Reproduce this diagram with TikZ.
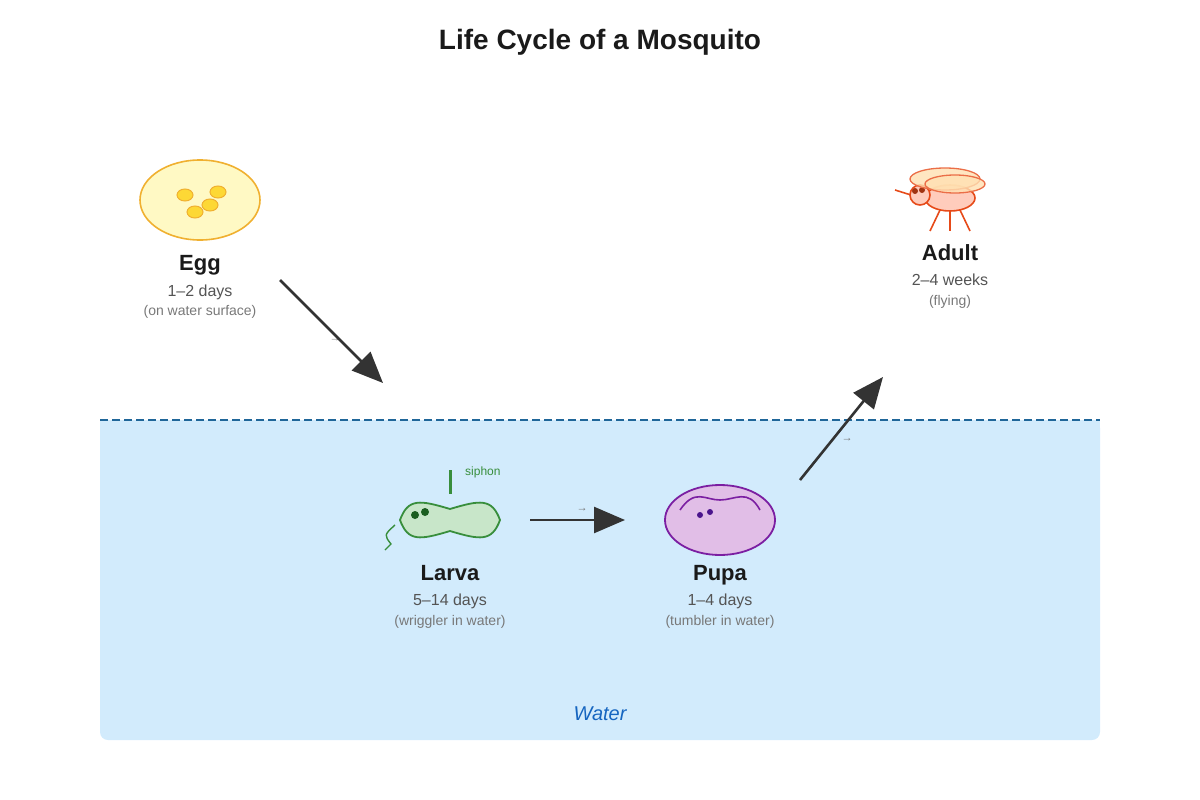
\documentclass[tikz,border=0pt]{standalone}
\usepackage{fontspec}
\setmainfont{Liberation Sans}
\usetikzlibrary{arrows.meta}
\definecolor{waterbg}{HTML}{D2EBFC}
\definecolor{waterline}{HTML}{1F6699}
\definecolor{watertext}{HTML}{1565C0}
\definecolor{eggfill}{HTML}{FFF9C4}
\definecolor{eggline}{HTML}{F0B030}
\definecolor{spotfill}{HTML}{FDD835}
\definecolor{larvafill}{HTML}{C8E6C9}
\definecolor{larvaline}{HTML}{388E3C}
\definecolor{larvaeye}{HTML}{1B5E20}
\definecolor{pupafill}{HTML}{E1BEE7}
\definecolor{pupaline}{HTML}{7B1FA2}
\definecolor{pupaeye}{HTML}{4A148C}
\definecolor{adultfill}{HTML}{FFCCBC}
\definecolor{adultline}{HTML}{E64A19}
\definecolor{wingfill}{HTML}{FFE0B2}
\definecolor{inkdark}{HTML}{1A1A1A}
\begin{document}
\begin{tikzpicture}
  [x=1pt,y=-1pt,
   stage/.style={font=\fontsize{22}{26}\selectfont\bfseries,text=inkdark,anchor=base},
   days/.style={font=\fontsize{16}{19}\selectfont,text=black!67,anchor=base},
   note/.style={font=\fontsize{14}{17}\selectfont,text=black!53,anchor=base},
   tiny/.style={font=\fontsize{11}{12}\selectfont,text=black!55,anchor=base},
   growarrow/.style={draw=black!80,line width=2.6pt,-{Triangle[length=31pt,width=26pt]}}]
  \useasboundingbox (0,0) rectangle (1200,800);

  % water
  \fill[waterbg,rounded corners=8pt] (100,420) rectangle (1100,740);
  \fill[waterbg] (100,420) rectangle (1100,430);
  \draw[waterline,line width=1.6pt,dash pattern=on 8pt off 4pt] (100,420) -- (1100,420);
  \node[font=\fontsize{20}{24}\selectfont\itshape,text=watertext,anchor=base] (water) at (600,720) {Water};

  \node[font=\fontsize{28}{32}\selectfont\bfseries,text=inkdark,anchor=base] (title) at (600,50) {Life Cycle of a Mosquito};

  % egg
  \draw[eggline,fill=eggfill,line width=1.6pt] (200,200) ellipse (60 and 40);
  \foreach \x/\y in {185/195,218/192,210/205,195/212}
    \draw[eggline,fill=spotfill,line width=1pt] (\x,\y) ellipse (8 and 6);
  \node[stage] (egg) at (200,270) {Egg};
  \node[days] (eggdays) at (200,296) {1–2 days};
  \node[note] (eggnote) at (200,315) {(on water surface)};

  % larva
  \draw[larvaline,line width=3pt] (450,470) -- (450,494);
  \node[font=\fontsize{12}{14}\selectfont,text=larvaline,anchor=base west,inner sep=0pt] (siphon) at (465,475) {siphon};
  \draw[larvaline,fill=larvafill,line width=1.8pt]
    (400,520) .. controls (408,498) and (420,500) .. (450,509)
    .. controls (480,500) and (492,498) .. (500,520)
    .. controls (492,542) and (480,540) .. (450,531)
    .. controls (420,540) and (408,542) .. (400,520) -- cycle;
  \fill[larvaeye] (415,515) circle (4) (425,512) circle (4);
  \draw[larvaline,line width=1.4pt] (395,525) .. controls (384,535) .. (391,544) -- (385,550);
  \node[stage] (larva) at (450,580) {Larva};
  \node[days] (larvadays) at (450,605) {5–14 days};
  \node[note] (larvanote) at (450,625) {(wriggler in water)};

  % pupa
  \draw[pupaline,fill=pupafill,line width=1.8pt] (720,520) ellipse (55 and 35);
  \draw[pupaline,line width=1.6pt] (680,510) .. controls (695,488) and (705,500) .. (720,500)
    .. controls (735,500) and (748,488) .. (760,510);
  \fill[pupaeye] (700,515) circle (3) (710,512) circle (3);
  \node[stage] (pupa) at (720,580) {Pupa};
  \node[days] (pupadays) at (720,605) {1–4 days};
  \node[note] (pupanote) at (720,625) {(tumbler in water)};

  % adult
  \draw[adultline,line width=1.6pt] (895,190) -- (911,195);
  \foreach \a/\b in {940/930,950/950,960/970}
    \draw[adultline,line width=1.6pt] (\a,210) -- (\b,231);
  \draw[adultline,fill=adultfill,line width=1.6pt] (950,198) ellipse (25 and 13);
  \draw[adultline,fill=adultfill,line width=1.6pt] (920,195) circle (10);
  \fill[adultline!70!black] (915,191) circle (3) (922,190) circle (3);
  \draw[adultline!80,fill=wingfill,fill opacity=.8,line width=1.3pt] (945,179) ellipse (35 and 11);
  \draw[adultline!80,fill=wingfill,fill opacity=.8,line width=1.3pt] (955,184) ellipse (30 and 9);
  \node[stage] (adult) at (950,260) {Adult};
  \node[days] (adultdays) at (950,285) {2–4 weeks};
  \node[note] (adultnote) at (950,305) {(flying)};

  % growth arrows
  \coordinate (eggout) at (280,280);
  \coordinate (larvain) at (383,383);
  \coordinate (larvaout) at (530,520);
  \coordinate (pupain) at (625,520);
  \coordinate (pupaout) at (800,480);
  \coordinate (adultin) at (883,377);
  \node[tiny] (t1) at (335,341) {→};
  \node[tiny] (t2) at (582,511) {→};
  \node[tiny] (t3) at (847,441) {→};

  \foreach \from/\to in {eggout/larvain,larvaout/pupain,pupaout/adultin}
    \draw[growarrow] (\from) -- (\to);

\end{tikzpicture}
\end{document}
